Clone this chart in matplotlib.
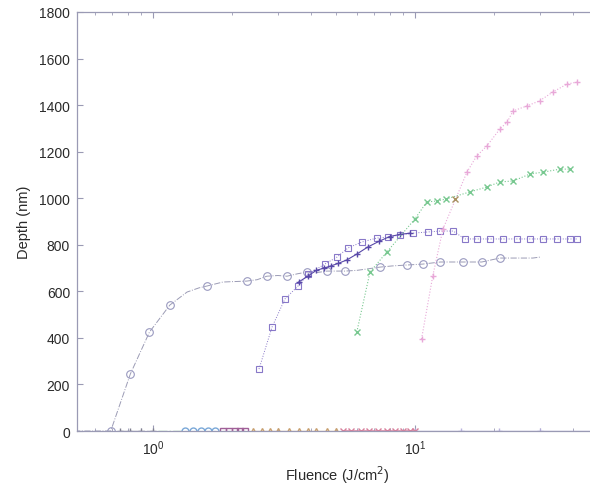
import matplotlib
matplotlib.use("Agg")
import matplotlib.pyplot as plt
from matplotlib.ticker import LogLocator, FixedLocator, NullFormatter

plt.rcParams['font.family'] = ['Liberation Sans', 'DejaVu Sans']

# ---- data (fluence J/cm^2, depth nm) ----
rise_x = [0.5, 0.6, 0.69, 0.82, 0.97, 1.16, 1.35, 1.5, 1.61, 1.85, 2.05, 2.28, 2.5, 2.72, 3.0,
          3.25, 3.55, 3.87, 4.2, 4.61, 5.4, 6.0, 6.56, 7.35, 8.17, 9.3, 10.7, 12.5, 15.2, 18.0,
          21.1, 24.5, 28.2, 30.0]
rise_y = [0, 0, 0, 245, 425, 541, 597, 615, 623, 640, 642, 644, 650, 665, 668,
          665, 675, 683, 680, 687, 687, 690, 696, 704, 709, 713, 717, 726, 726, 726,
          743, 743, 743, 747]
circ_x = [0.69, 0.82, 0.97, 1.16, 1.61, 2.28, 2.72, 3.25, 3.87, 4.61, 5.4, 7.35, 9.3, 10.7,
          12.5, 15.2, 18.0, 21.1]
circ_y = [0, 245, 425, 541, 623, 644, 665, 665, 683, 687, 687, 704, 713, 717,
          726, 726, 726, 743]

sq_x = [2.54, 2.85, 3.19, 3.58, 3.91, 4.53, 5.04, 5.55, 6.28, 7.16, 7.89, 8.77, 9.82, 11.2,
        12.5, 14.0, 15.5, 17.2, 19.3, 21.7, 24.5, 27.5, 30.8, 34.8, 39.0, 41.5]
sq_y = [266, 447, 567, 623, 674, 717, 747, 786, 812, 829, 833, 842, 850, 855,
        859, 859, 825, 825, 825, 825, 825, 825, 825, 825, 825, 825]

plus_x = [3.6, 3.9, 4.2, 4.5, 4.8, 5.1, 5.5, 6.0, 6.6, 7.3, 8.0, 8.8, 9.6]
plus_y = [640, 665, 690, 700, 710, 720, 735, 760, 790, 815, 835, 845, 850]

green_x = [6.0, 6.74, 7.82, 10.0, 11.1, 12.1, 13.2, 16.2, 18.8, 21.1, 23.7, 27.5, 30.8, 35.8, 39.0]
green_y = [425, 683, 769, 911, 984, 988, 997, 1027, 1048, 1070, 1074, 1104, 1112, 1125, 1125]

pink_x = [10.6, 11.7, 12.8, 15.8, 17.2, 18.8, 21.1, 22.5, 23.7, 26.7, 29.9, 33.6, 38.0, 41.5]
pink_y = [395, 666, 868, 1112, 1181, 1224, 1297, 1327, 1375, 1396, 1418, 1456, 1490, 1499]

brown_x = [14.2]
brown_y = [997]

zero_gray_x = [0.75, 0.82, 0.9, 1.0]
zero_green_x = [1.05, 1.12, 1.2, 1.28]
zero_blue_x = [1.33, 1.42, 1.52, 1.62, 1.72]
zero_purple_x = [1.85, 1.95, 2.05, 2.15, 2.25]
zero_orange_x = [2.4, 2.6, 2.8, 3.0, 3.3, 3.6, 3.9, 4.2, 4.6, 5.0]
zero_pink_x = [5.3, 5.7, 6.2, 6.7, 7.2, 7.8, 8.4, 9.0, 9.6, 10.0]
zero_lav_x = [10.0, 15.0, 21.0, 30.0, 50.0]

y_ticks = [0, 200, 400, 600, 800, 1000, 1200, 1400, 1600, 1800]

fig = plt.figure(figsize=(5.90, 4.85), dpi=100)
ax = fig.add_axes([77/590, 1-432/485, (598-77)/590, (432-13)/485])
ax.set_xscale('log')

# zero-depth series
ax.plot(zero_lav_x, [0]*len(zero_lav_x), '-+', color='#b4acdc', lw=1, ms=4, alpha=0.9)
ax.plot(zero_gray_x, [0]*len(zero_gray_x), '-.+', color='#808090', lw=0.9, ms=5)
ax.plot(zero_green_x, [0]*len(zero_green_x), '-.', color='#8cc898', lw=1.0, ms=5)
ax.plot(zero_blue_x, [0]*len(zero_blue_x), '-o', color='#7aa8d8', lw=0.8, ms=5, mfc='none')
ax.plot(zero_purple_x, [0]*len(zero_purple_x), '-s', color='#a06098', lw=0.8, ms=4.5, mfc='none')
ax.plot(zero_orange_x, [0]*len(zero_orange_x), '-^', color='#c8a070', lw=0.9, ms=4.5, mfc='none')
ax.plot(zero_pink_x, [0]*len(zero_pink_x), '-x', color='#d8809c', lw=1.1, ms=4)

# main series
ax.plot(rise_x, rise_y, '-.', color='#8a8aa8', lw=0.7, ms=3.5, alpha=0.85)
ax.plot(circ_x, circ_y, 'o', color='#9a9ac0', ms=5.5, mfc='none', mew=0.8)
ax.plot(sq_x, sq_y, ':s', color='#8878c8', lw=0.7, ms=5, mfc='none', mew=0.8)
ax.plot(plus_x, plus_y, '-+', color='#5848a8', lw=0.8, ms=5)
ax.plot(green_x, green_y, ':x', color='#78c890', lw=0.8, ms=4.5)
ax.plot(pink_x, pink_y, ':+', color='#e8a8d8', lw=0.8, ms=5)
ax.plot(brown_x, brown_y, 'x', color='#a89060', ms=5)

ax.set_xlim(0.513, 50)
ax.set_ylim(0, 1800)
ax.set_yticks(y_ticks)
ax.xaxis.set_major_locator(FixedLocator([1, 10]))
ax.xaxis.set_minor_locator(LogLocator(base=10, subs=range(2, 10)))
ax.xaxis.set_minor_formatter(NullFormatter())

axcol = '#9a9ab4'
for s in ax.spines.values():
    s.set_color(axcol)
    s.set_linewidth(0.9)
ax.tick_params(which='both', direction='in', top=True, right=True, colors=axcol,
               labelcolor='#2a2a2a', labelsize=10)
ax.tick_params(which='major', length=4, pad=5)
ax.tick_params(which='minor', length=2.5)

ax.set_xlabel('Fluence (J/cm$^2$)', fontsize=10.5, color='#2a2a2a', labelpad=5)
ax.set_ylabel('Depth (nm)', fontsize=10.5, color='#2a2a2a', labelpad=6)

fig.savefig('out.png', dpi=100)
